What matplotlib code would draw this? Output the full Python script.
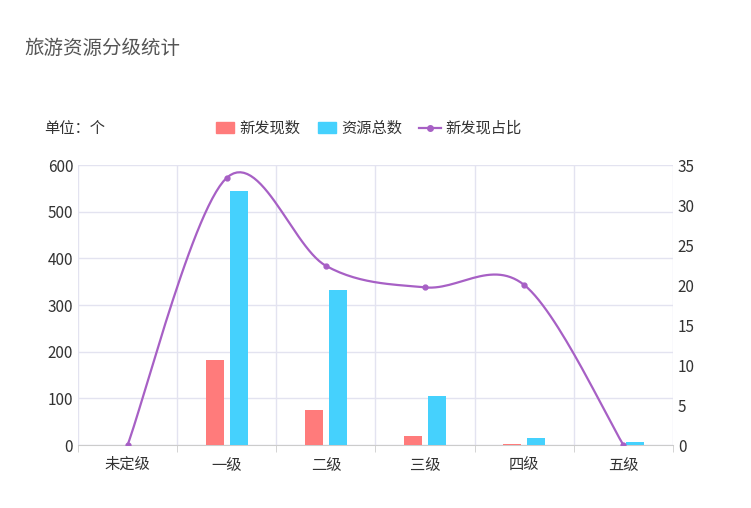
import numpy as np
import matplotlib.pyplot as plt

plt.rcParams['font.family'] = ['Noto Sans CJK SC', 'DejaVu Sans']

categories = ["未定级", "一级", "二级", "三级", "四级", "五级"]
new_found = [0, 182, 74, 20, 3, 0]
total = [0, 545, 332, 105, 15, 6]
ratio = [0, 33.4, 22.4, 19.7, 20.0, 0]

W, H = 751, 508
fig = plt.figure(figsize=(W / 100, H / 100), dpi=100)
ax = fig.add_axes([78 / W, 1 - 445 / H, (673 - 78) / W, (445 - 165) / H])
ax2 = ax.twinx()

x = np.arange(len(categories))
bw = 0.18
ax.bar(x - 0.12, new_found, bw, color="#FF7B7B", zorder=3)
ax.bar(x + 0.12, total, bw, color="#45D1FD", zorder=3)

# smooth curve through points (Catmull-Rom)
px, py = np.array(x, float), np.array(ratio, float)
xs, ys = [], []
for i in range(len(px) - 1):
    p0 = max(i - 1, 0); p3 = min(i + 2, len(px) - 1)
    t = np.linspace(0, 1, 30)
    for arr, out in ((px, xs), (py, ys)):
        a, b, c, d = arr[p0], arr[i], arr[i + 1], arr[p3]
        out.extend(0.5 * (2 * b + (-a + c) * t + (2 * a - 5 * b + 4 * c - d) * t**2
                          + (-a + 3 * b - 3 * c + d) * t**3))
ax2.plot(xs, ys, color="#A760C5", lw=1.6, zorder=4)
ax2.plot(px, py, "o", color="#A760C5", ms=3.5, zorder=5)

ax.set_xlim(-0.5, 5.5)
ax.set_ylim(0, 600)
ax2.set_ylim(0, 35)
ax.set_yticks(range(0, 601, 100))
ax2.set_yticks(range(0, 36, 5))
ax.set_xticks(x)
ax.set_xticklabels(categories)
ax.set_xticks(np.arange(-0.5, 6, 1), minor=True)
ax.grid(True, which="minor", axis="x", color="#E3E3F0", lw=1, zorder=0)
ax.grid(True, which="major", axis="y", color="#E3E3F0", lw=1, zorder=0)
ax.tick_params(axis="x", which="both", length=0, labelsize=11, colors="#333333", pad=8)
ax.tick_params(axis="x", which="minor", length=5, color="#CCCCCC")
ax.tick_params(axis="y", length=0, labelsize=11, colors="#333333")
ax2.tick_params(axis="y", length=0, labelsize=11, colors="#333333")
for a in (ax, ax2):
    for s in a.spines.values():
        s.set_visible(False)
ax.spines["bottom"].set_visible(True)
ax.spines["bottom"].set_color("#CCCCCC")

fig.text(24 / W, 1 - 48 / H, "旅游资源分级统计", fontsize=14, color="#555555", va="center")
fig.text(44 / W, 1 - 128 / H, "单位：个", fontsize=11, color="#333333", va="center")

# legend
ly = 1 - 128 / H
fig.patches.append(plt.Rectangle((216 / W, ly - 5 / H), 18 / W, 11 / H, transform=fig.transFigure,
                                 color="#FF7B7B", figure=fig))
fig.text(239 / W, ly, "新发现数", fontsize=11, color="#333333", va="center")
fig.patches.append(plt.Rectangle((318 / W, ly - 5 / H), 18 / W, 11 / H, transform=fig.transFigure,
                                 color="#45D1FD", figure=fig))
fig.text(341 / W, ly, "资源总数", fontsize=11, color="#333333", va="center")
fig.add_artist(plt.Line2D([419 / W, 441 / W], [ly, ly], color="#A760C5", lw=1.6))
fig.add_artist(plt.Line2D([430 / W], [ly], marker="o", color="#A760C5", ms=4))
fig.text(445 / W, ly, "新发现占比", fontsize=11, color="#333333", va="center")

fig.savefig("out.png", dpi=100)
